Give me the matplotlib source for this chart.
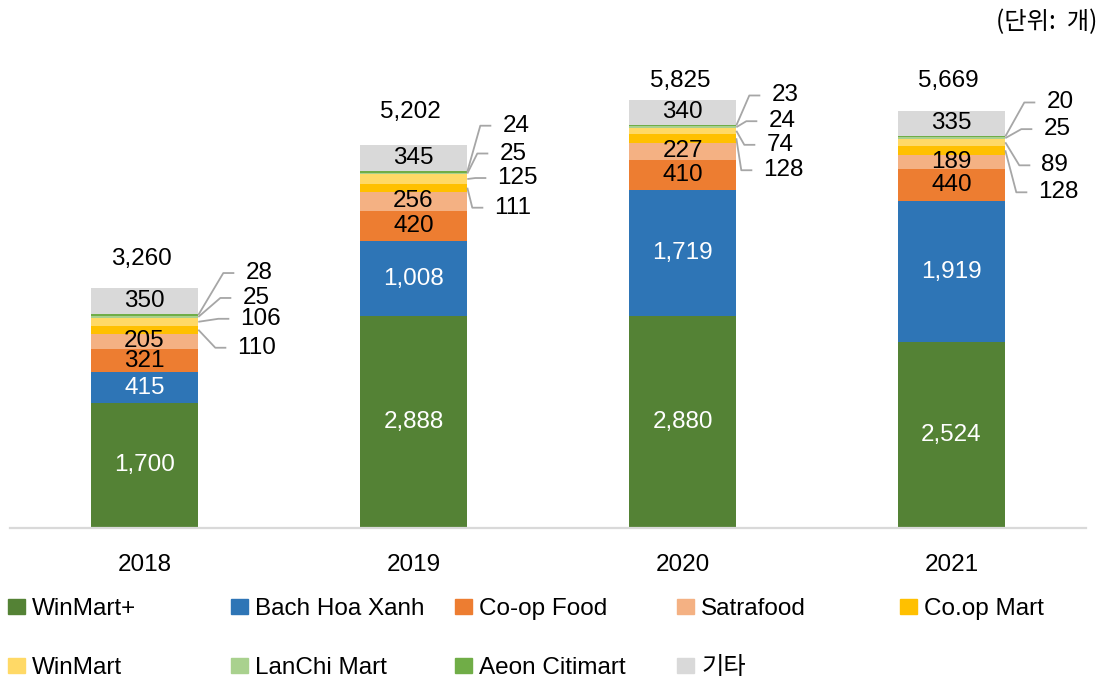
import matplotlib
matplotlib.use('Agg')
import matplotlib.pyplot as plt
from matplotlib.patches import Patch

plt.rcParams['font.family'] = ['Liberation Sans', 'Noto Sans CJK KR']

# 데이터
years = ['2018', '2019', '2020', '2021']
series = ['WinMart+', 'Bach Hoa Xanh', 'Co-op Food', 'Satrafood', 'Co.op Mart',
          'WinMart', 'LanChi Mart', 'Aeon Citimart', '기타']
winmart_plus = [1700, 2888, 2880, 2524]
bach_hoa_xanh = [415, 1008, 1719, 1919]
coop_food = [321, 420, 410, 440]
satrafood = [205, 256, 227, 189]
coop_mart = [110, 111, 128, 128]
winmart = [106, 125, 74, 89]
lanchi = [25, 25, 24, 25]
aeon = [28, 24, 23, 20]
others = [350, 345, 340, 335]

colors = ['#548235', '#2E75B6', '#ED7D31', '#F4B183', '#FFC000',
          '#FFD966', '#A9D18E', '#70AD47', '#D9D9D9']
values = [winmart_plus, bach_hoa_xanh, coop_food, satrafood, coop_mart,
          winmart, lanchi, aeon, others]

# 레이블 배치 (픽셀)
inside = [0, 1, 2, 3, 8]             # 막대 안에 쓰는 계열
txt_col = ['white', 'white', 'black', 'black', 'black', 'black', 'black', 'black', 'black']
outside = [4, 5, 6, 7]               # 지시선으로 밖에 쓰는 계열
out_dy = [[-18, 3, 19, 42], [-20, 1, 20, 46], [-32, -14, 6, 30], [-42, -23, 9, 34]]
elbow_dx = [9, 12, 14, 17]
year_dx = [8, -4, -4, 2]
total_dy = [29, 33, 19, 30]

W, H = 1109, 682
fig = plt.figure(figsize=(W / 100, H / 100), dpi=100)
ax = fig.add_axes([10 / W, 154 / H, 1076 / W, 478 / H])
ax.set_xlim(-0.5, 3.5)
ax.set_ylim(0, 6500)

x = list(range(len(years)))
bw = 0.4
bottom = [0] * len(years)
bars = []
for i, v in enumerate(values):
    b = ax.bar(x, v, bw, bottom=bottom, color=colors[i], linewidth=0)
    bars.append((list(bottom), v))
    bottom = [bottom[k] + v[k] for k in range(len(years))]

fs = 17.5
for i in inside:
    bot, v = bars[i]
    for k in x:
        ax.text(k, bot[k] + v[k] / 2, f'{v[k]:,}', ha='center', va='center',
                fontsize=fs, color=txt_col[i])

# 지시선 레이블
to_px = ax.transData
inv = ax.transData.inverted()
for k in x:
    for j, i in enumerate(outside):
        bot, v = bars[i]
        px0, py0 = to_px.transform((k + bw / 2, bot[k] + v[k] / 2))
        py1 = py0 + out_dy[k][j]
        ex = elbow_dx[j] + year_dx[k]
        px1 = px0 + (ex if out_dy[k][j] != 0 else 0)
        px2 = px0 + ex + 11
        pts = inv.transform([(px0, py0), (px1, py1), (px2, py1)])
        ax.plot(pts[:, 0], pts[:, 1], color='#A6A6A6', lw=1.3, clip_on=False,
                solid_capstyle='butt')
        tx, ty = inv.transform((px2 + 11, py1))
        ax.text(tx, ty, f'{v[k]:,}', ha='left', va='center', fontsize=fs)

# 합계
for k in x:
    ax.annotate(f'{bottom[k]:,}', (k - 0.01, bottom[k]), xytext=(0, total_dy[k]),
                textcoords='offset pixels', ha='center', va='center', fontsize=fs)

for s in ['top', 'right', 'left']:
    ax.spines[s].set_visible(False)
ax.spines['bottom'].set_color('#D9D9D9')
ax.spines['bottom'].set_linewidth(1.6)
ax.set_yticks([])
ax.set_xticks(x)
ax.set_xticklabels(years, fontsize=fs)
ax.tick_params(axis='x', length=0, pad=19)

# 범례
col_x = [8, 231, 455, 677, 900]
row_y = [609, 668]
for i, name in enumerate(series):
    r, c = divmod(i, 5)
    fig.legend(handles=[Patch(color=colors[i])], labels=[name],
               loc='center left', bbox_to_anchor=(col_x[c] / W, 1 - row_y[r] / H),
               frameon=False, borderpad=0, borderaxespad=0, fontsize=fs,
               handlelength=0.7, handleheight=0.55, handletextpad=0.3)

fig.text(1097 / W, 1 - 22 / H, '(단위:  개)', ha='right', va='center', fontsize=fs,
         family=['Noto Sans CJK KR'])

fig.savefig('out.png', dpi=100)
